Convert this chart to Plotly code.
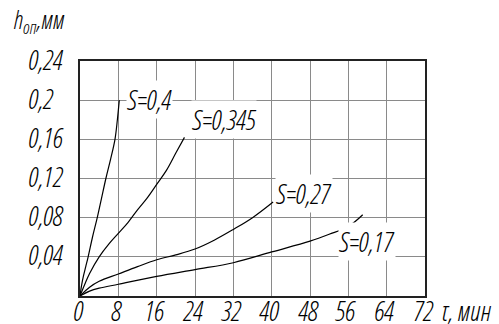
import plotly.graph_objects as go

# Feed time, min
tau_04 = [0, 0.3, 0.7, 1.2, 1.7, 2.6, 3.6, 4.5, 5.4, 6.4, 7.3, 7.8, 8.2]
h_04 = [0, 0.01, 0.02, 0.03, 0.04, 0.06, 0.08, 0.10, 0.12, 0.14, 0.16, 0.18, 0.20]

tau_0345 = [0, 1, 2, 4, 6, 8, 10, 12, 14, 16, 18, 20, 21.8]
h_0345 = [0, 0.012, 0.023, 0.04, 0.053, 0.064, 0.075, 0.088, 0.10, 0.114, 0.128, 0.146, 0.162]

tau_027 = [0, 2, 4, 8, 12, 16, 20, 24, 28, 32, 36, 40.3]
h_027 = [0, 0.009, 0.015, 0.0225, 0.03, 0.037, 0.042, 0.048, 0.057, 0.068, 0.08, 0.096]

tau_017 = [0, 2, 4, 8, 16, 24, 32, 40, 48, 52, 56, 59]
h_017 = [0, 0.005, 0.008, 0.012, 0.02, 0.027, 0.034, 0.045, 0.056, 0.063, 0.071, 0.083]

series = [
    (tau_04, h_04, "S=0,4", 9.6, 0.201),
    (tau_0345, h_0345, "S=0,345", 23.2, 0.18),
    (tau_027, h_027, "S=0,27", 40.7, 0.105),
    (tau_017, h_017, "S=0,17", 53.9, 0.056),
]

x_ticks = [0, 8, 16, 24, 32, 40, 48, 56, 64, 72]
y_ticks = [0.04, 0.08, 0.12, 0.16, 0.2, 0.24]
y_tick_text = ["0,04", "0,08", "0,12", "0,16", "0,2", "0,24"]

FAMILY = "Open Sans Condensed Light, DejaVu Sans Condensed, sans-serif"


def tfont(size):
    return dict(family=FAMILY, size=size, color="black", style="italic", weight=300)


fig = go.Figure()
for xs, ys, name, lx, ly in series:
    fig.add_trace(go.Scatter(x=xs, y=ys, mode="lines", line=dict(color="black", width=1.2, shape="spline"),
                             showlegend=False, hoverinfo="skip"))

annotations = []
for xs, ys, name, lx, ly in series:
    annotations.append(dict(x=lx, y=ly, xref="x", yref="y", text=name, showarrow=False,
                            xanchor="left", yanchor="middle", bgcolor="white", borderpad=0,
                            font=tfont(27)))

# y tick labels, left aligned
for v, t in zip(y_ticks, y_tick_text):
    annotations.append(dict(x=-0.157, y=v, xref="paper", yref="y", text=t, showarrow=False,
                            xanchor="left", yanchor="middle", yshift=2, font=tfont(27)))

# x tick labels
for v in x_ticks:
    annotations.append(dict(x=v, y=-0.06, xref="x", yref="paper", text=str(v), showarrow=False,
                            xanchor="center", yanchor="middle", xshift=-2, font=tfont(27)))

annotations.append(dict(x=-0.2, y=1.085, xref="paper", yref="paper",
                        text="h<sub>оп</sub>,мм", showarrow=False, xanchor="left", yanchor="bottom",
                        font=tfont(25)))
annotations.append(dict(x=1.04, y=-0.06, xref="paper", yref="paper",
                        text="τ, мин", showarrow=False, xanchor="left", yanchor="middle",
                        font=tfont(27)))

fig.update_layout(
    width=499, height=324,
    margin=dict(l=80, r=74, t=61, b=28, autoexpand=False),
    paper_bgcolor="white", plot_bgcolor="white",
    annotations=annotations,
    xaxis=dict(range=[0, 72], tickvals=x_ticks, showticklabels=False, automargin=False,
               showgrid=True, gridcolor="#8a8a8a", gridwidth=1,
               showline=True, linecolor="#222", linewidth=1.5, mirror=True,
               zeroline=False, ticks=""),
    yaxis=dict(range=[0, 0.24], tickvals=y_ticks, showticklabels=False, automargin=False,
               showgrid=True, gridcolor="#8a8a8a", gridwidth=1,
               showline=True, linecolor="#222", linewidth=1.5, mirror=True,
               zeroline=False, ticks=""),
)

fig.write_html("out.html")
